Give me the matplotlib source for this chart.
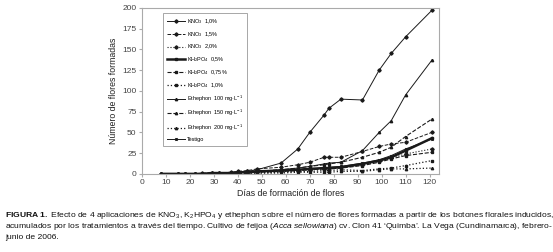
import matplotlib
matplotlib.use("Agg")
import matplotlib.pyplot as plt
from matplotlib import font_manager

# pick a narrow font if there is one
names = {f.name for f in font_manager.fontManager.ttflist}
fam = "Liberation Sans Narrow" if "Liberation Sans Narrow" in names else "Liberation Sans"
plt.rcParams["font.family"] = [fam, "DejaVu Sans"]
plt.rcParams["mathtext.fontset"] = "custom"
plt.rcParams["mathtext.rm"] = fam
plt.rcParams["mathtext.it"] = fam + ":italic"
plt.rcParams["mathtext.bf"] = fam + ":bold"

# Data
days = [8, 15, 18, 22, 25, 29, 32, 37, 40, 44, 48, 58, 65, 70, 76, 78, 83, 92, 99, 104, 110, 121]

kno3_10 = [0, 0, 0, 0, 0, 1, 1, 1, 2, 3, 5, 13, 30, 50, 71, 79, 90, 89, 125, 145, 165, 197]
kno3_15 = [0, 0, 0, 0, 1, 1, 1, 2, 3, 4, 6, 8, 11, 14, 20, 20, 20, 27, 33, 36, 38, 50]
kno3_20 = [0, 0, 0, 0, 0, 0, 0, 1, 1, 1, 2, 3, 4, 5, 6, 7, 8, 11, 15, 19, 24, 30]
kh_05 = [0, 0, 0, 0, 0, 1, 1, 1, 2, 2, 3, 4, 5, 6, 7, 7, 8, 12, 16, 20, 28, 43]
kh_075 = [0, 0, 0, 0, 0, 0, 0, 1, 1, 1, 2, 3, 4, 5, 6, 6, 7, 10, 14, 18, 22, 26]
kh_10 = [0, 0, 0, 0, 0, 0, 0, 0, 1, 1, 1, 2, 3, 3, 4, 4, 5, 4, 6, 7, 10, 16]
eth_100 = [0, 0, 0, 0, 0, 0, 0, 1, 1, 2, 3, 5, 7, 9, 12, 13, 14, 28, 50, 64, 95, 137]
eth_150 = [0, 0, 0, 0, 0, 0, 1, 1, 1, 2, 3, 5, 7, 9, 11, 12, 14, 20, 26, 32, 45, 66]
eth_200 = [0, 0, 0, 0, 0, 0, 0, 0, 0, 1, 1, 1, 2, 2, 2, 2, 3, 3, 5, 6, 6, 7]
testigo = [0, 0, 0, 0, 0, 0, 1, 1, 1, 2, 3, 4, 5, 6, 7, 8, 9, 13, 17, 22, 30, 42]

labels = ["KNO$_3$  1,0%", "KNO$_3$  1,5%", "KNO$_3$  2,0%",
          "KH$_2$PO$_4$  0,5%", "KH$_2$PO$_4$  0,75%", "KH$_2$PO$_4$  1,0%",
          "Ethephon  100 mg·L$^{-1}$", "Ethephon  150 mg·L$^{-1}$",
          "Ethephon  200 mg·L$^{-1}$", "Testigo"]
series = [kno3_10, kno3_15, kno3_20, kh_05, kh_075, kh_10,
          eth_100, eth_150, eth_200, testigo]
styles = [("-", "D", 0.7), ("--", "D", 0.7), (":", "D", 0.8),
          ("-", "s", 1.8), ("--", "s", 0.8), (":", "s", 0.9),
          ("-", "^", 0.7), ("--", "^", 0.8), (":", "^", 0.9),
          ("-", "x", 0.7)]

fig = plt.figure(figsize=(5.53, 2.52), dpi=100)
ax = fig.add_axes([0.257, 0.31, 0.537, 0.659])

for vals, lab, (ls, mk, lw) in zip(series, labels, styles):
    ax.plot(days, vals, linestyle=ls, marker=mk, markersize=1.7, linewidth=lw,
            color="#1a1a1a", label=lab)

ax.set_xlim(0, 124)
ax.set_ylim(0, 200)
ax.set_xticks(range(0, 121, 10))
ax.set_yticks(range(0, 201, 25))
ax.tick_params(labelsize=6, length=2, color="#aaaaaa", pad=2, labelcolor="#444444")
for s in ax.spines.values():
    s.set_color("#aaaaaa")
    s.set_linewidth(0.8)
ax.set_xlabel("Días de formación de flores", fontsize=6.3, labelpad=2, color="#222222")
ax.set_ylabel("Número de flores formadas", fontsize=6.3, labelpad=3, color="#222222")

leg = ax.legend(loc="upper left", bbox_to_anchor=(0.06, 0.985), fontsize=4.0,
                handlelength=3.4, labelspacing=0.72, borderpad=0.7,
                handletextpad=0.3, fancybox=False, edgecolor="#999999", framealpha=1)
leg.get_frame().set_linewidth(0.6)

caption = [
    r"$\mathbf{FIGURA\ 1.}$ Efecto de 4 aplicaciones de KNO$_3$, K$_2$HPO$_4$ y ethephon sobre el número de flores formadas a partir de los botones florales inducidos,",
    r"acumulados por los tratamientos a través del tiempo. Cultivo de feijoa ($\mathit{Acca\ sellowiana}$) cv. Clon 41 ‘Quimba’. La Vega (Cundinamarca), febrero-",
    "junio de 2006.",
]
for i, line in enumerate(caption):
    fig.text(0.009, 0.14 - i * 0.045, line, fontsize=6.1, color="#111111", va="baseline")

fig.savefig("out.png", dpi=100)
